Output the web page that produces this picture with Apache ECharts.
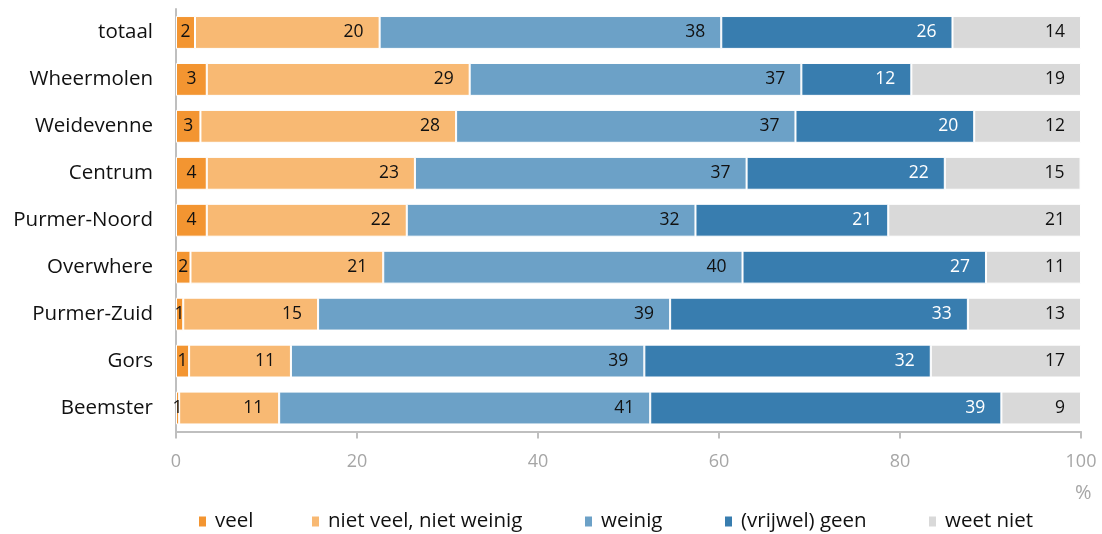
<!DOCTYPE html>
<html>
<head>
<meta charset="utf-8">
<script src="https://cdn.jsdelivr.net/npm/echarts@6/dist/echarts.min.js"></script>
<style>html,body{margin:0;padding:0;background:#fff}#c{width:1102px;height:534px}</style>
</head>
<body>
<div id="c"></div>
<script>
// Categories (top to bottom as in the picture)
const categories = ['totaal','Wheermolen','Weidevenne','Centrum','Purmer-Noord','Overwhere','Purmer-Zuid','Gors','Beemster'];
const seriesNames = ['veel','niet veel, niet weinig','weinig','(vrijwel) geen','weet niet'];
// Bar widths (%)
const veel      = [2.1, 3.4, 2.7, 3.4, 3.4, 1.6, 0.8, 1.45, 0.35];
const nietVeel  = [20.4, 29.05, 28.25, 23.0, 22.1, 21.3, 14.9, 11.25, 11.05];
const weinig    = [37.75, 36.65, 37.5, 36.65, 31.9, 39.7, 38.9, 39.05, 41.0];
const geen      = [25.55, 12.15, 19.75, 21.9, 21.3, 26.9, 32.9, 31.65, 38.8];
const weetNiet  = [14.2, 18.75, 11.8, 15.0, 21.3, 10.5, 12.5, 16.6, 8.8];
// Printed (rounded) labels
const veelLbl     = [2, 3, 3, 4, 4, 2, 1, 1, 1];
const nietVeelLbl = [20, 29, 28, 23, 22, 21, 15, 11, 11];
const weinigLbl   = [38, 37, 37, 37, 32, 40, 39, 39, 41];
const geenLbl     = [26, 12, 20, 22, 21, 27, 33, 32, 39];
const weetNietLbl = [14, 19, 12, 15, 21, 11, 13, 17, 9];
const xTicks = [0, 20, 40, 60, 80, 100];

const FONT = '"Open Sans", "Noto Sans", sans-serif';
const colors = ['#f39531', '#f8b973', '#6ca1c7', '#387daf', '#d9d9d9'];
const values = [veel, nietVeel, weinig, geen, weetNiet];
const labels = [veelLbl, nietVeelLbl, weinigLbl, geenLbl, weetNietLbl];
const labelColors = ['#111', '#111', '#111', '#ffffff', '#111'];
const legendLeft = [197, 310, 583, 723, 927];

const series = values.map((vals, i) => ({
  name: seriesNames[i],
  type: 'bar',
  stack: 'total',
  barCategoryGap: '30%',
  data: vals,
  itemStyle: { color: colors[i], borderColor: '#ffffff', borderWidth: 1 },
  label: {
    show: true,
    position: i === 0 ? 'inside' : 'insideRight',
    distance: 16,
    color: labelColors[i],
    fontFamily: FONT,
    fontSize: 17.5,
    formatter: p => String(labels[i][p.dataIndex])
  },
  emphasis: { disabled: true }
}));

const legends = seriesNames.map((n, i) => ({
  left: legendLeft[i], top: 511, padding: 0,
  icon: 'rect', itemWidth: 9, itemHeight: 12,
  selectedMode: false,
  textStyle: { color: '#111', fontFamily: FONT, fontSize: 20.5, padding: [0, 0, 0, 3] },
  data: [n]
}));

const chart = echarts.init(document.getElementById('c'), null, { renderer: 'canvas' });
chart.setOption({
  animation: false,
  color: colors,
  grid: { left: 176, right: 21, top: 9, bottom: 102.5, containLabel: false },
  xAxis: {
    type: 'value', min: 0, max: 100, interval: 20,
    axisLine: { show: true, lineStyle: { color: '#bfbfbf', width: 2 } },
    axisTick: { show: true, length: 7, lineStyle: { color: '#bfbfbf', width: 2 } },
    splitLine: { show: false },
    axisLabel: { color: '#a6a6a6', fontFamily: FONT, fontSize: 18, margin: 21,
      formatter: v => xTicks.includes(v) ? String(v) : '' }
  },
  yAxis: {
    type: 'category', data: categories, inverse: true,
    axisLine: { show: true, lineStyle: { color: '#bfbfbf', width: 2 } },
    axisTick: { show: false },
    axisLabel: { color: '#111', fontFamily: FONT, fontSize: 20.5, margin: 23 }
  },
  legend: legends,
  graphic: [{
    type: 'text', left: 1075, top: 483,
    style: { text: '%', fill: '#a6a6a6', font: '20px "Open Sans", sans-serif' }
  }],
  series: series
});
</script>
</body>
</html>
